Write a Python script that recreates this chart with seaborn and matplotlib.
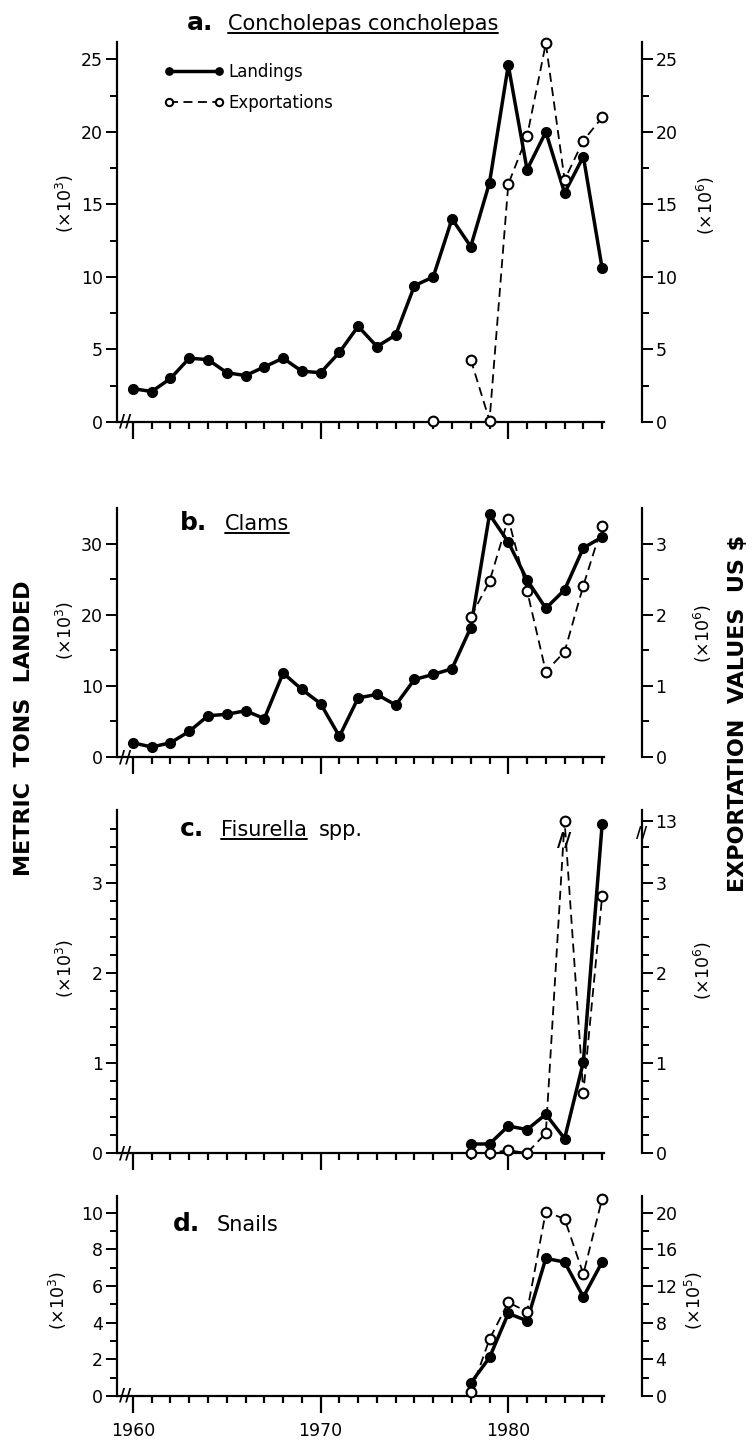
import numpy as np
import pandas as pd
import matplotlib
matplotlib.use("Agg")
import matplotlib.pyplot as plt
import seaborn as sns
from matplotlib.ticker import FixedLocator, MultipleLocator, NullFormatter, FixedFormatter
from matplotlib.lines import Line2D

nan = np.nan
years = list(range(1960, 1986))

# a. Concholepas concholepas  (landings x10^3 t, exports x10^6 US$)
conch_landings = [2.3, 2.1, 3.0, 4.4, 4.3, 3.4, 3.2, 3.8, 4.4, 3.5, 3.4, 4.8, 6.6,
                  5.2, 6.0, 9.4, 10.0, 14.0, 12.1, 16.5, 24.6, 17.4, 20.0, 15.8, 18.3, 10.6]
conch_exports = [nan] * 16 + [0.1, nan, 4.3, 0.1, 16.4, 19.7, 26.1, 16.7, 19.4, 21.0]

# b. Clams  (landings x10^3 t, exports x10^6 US$)
clam_landings = [2.0, 1.4, 2.0, 3.6, 5.8, 6.0, 6.5, 5.4, 11.8, 9.5, 7.5, 2.9, 8.3,
                 8.8, 7.3, 10.9, 11.6, 12.4, 18.2, 34.1, 30.2, 24.9, 20.9, 23.5, 29.4, 30.9]
clam_exports = [nan] * 18 + [1.97, 2.47, 3.35, 2.34, 1.2, 1.48, 2.41, 3.25]

# c. Fisurella spp.  (landings x10^3 t, exports x10^6 US$)
fisu_landings = [nan] * 18 + [0.10, 0.10, 0.30, 0.26, 0.43, 0.16, 1.01, 3.65]
fisu_exports = [nan] * 18 + [0.0, 0.0, 0.03, 0.0, 0.22, 13.0, 0.67, 2.85]

# d. Snails  (landings x10^3 t, exports x10^5 US$)
snail_landings = [nan] * 18 + [0.7, 2.1, 4.5, 4.1, 7.5, 7.3, 5.4, 7.3]
snail_exports = [nan] * 18 + [0.4, 6.2, 10.2, 9.2, 20.1, 19.3, 13.3, 21.5]

year_ticks = [1960, 1970, 1980]
year_labels = ["1960", "1970", "1980"]
legend_labels = ["Landings", "Exportations"]
fisu_right_ticks = [0, 1, 2, 3, 13]
fisu_right_labels = ["0", "1", "2", "3", "13"]

# broken right axis in panel c
BREAK_AT = 3.5
BREAK_SQUEEZE = 0.02


def broken_axis(v):
    v = np.asarray(v, dtype=float)
    return np.where(v <= BREAK_AT, v, BREAK_AT + (v - BREAK_AT) * BREAK_SQUEEZE)


sns.set_style("ticks", {"axes.edgecolor": "black", "xtick.color": "black",
                        "ytick.color": "black", "text.color": "black"})
plt.rcParams["font.family"] = ["DejaVu Sans"]

W, H = 753, 1444
fig = plt.figure(figsize=(W / 100, H / 100), dpi=100)


def px_rect(left, top, right, bottom):
    return [left / W, 1 - bottom / H, (right - left) / W, (bottom - top) / H]


XLIM = (1959.15, 1985.1)

LAND = dict(color="black", linewidth=2.5, marker="o", markersize=7,
            markerfacecolor="black", markeredgecolor="black", markeredgewidth=1,
            clip_on=False, zorder=4)
EXPO = dict(color="black", linewidth=1.3, linestyle=(0, (5, 3)), marker="o",
            markersize=7, markerfacecolor="white", markeredgecolor="black",
            markeredgewidth=1.5, clip_on=False, zorder=5)


def draw_series(ax, values, style):
    df = pd.DataFrame({"year": years, "value": values})
    df["run"] = df["value"].isna().cumsum()
    df = df.dropna(subset=["value"])
    for _, seg in df.groupby("run"):
        sns.lineplot(data=seg, x="year", y="value", ax=ax, estimator=None,
                     sort=False, legend=False, errorbar=None, **style)
    ax.set_xlabel("")
    ax.set_ylabel("")
    return ax.get_lines()[-1]


def make_panel(rect, ylim, ylim_r, lmaj, lmin, rmaj, rmin, xlabels=False):
    ax = fig.add_axes(rect)
    ax2 = ax.twinx()
    ax.spines["top"].set_visible(False)
    ax.spines["right"].set_visible(False)
    for s in ["top", "left", "bottom"]:
        ax2.spines[s].set_visible(False)
    ax2.spines["right"].set_position(("outward", 27))
    for sp in list(ax.spines.values()) + list(ax2.spines.values()):
        sp.set_linewidth(1.6)
    ax.xaxis.set_major_locator(FixedLocator(year_ticks))
    ax.xaxis.set_minor_locator(MultipleLocator(1))
    if xlabels:
        ax.xaxis.set_major_formatter(FixedFormatter(year_labels))
    else:
        ax.xaxis.set_major_formatter(NullFormatter())
    ax.tick_params(axis="x", which="major", length=12, width=1.6, labelsize=12.5, pad=7)
    ax.tick_params(axis="x", which="minor", length=5, width=1.6)
    ax.yaxis.set_major_locator(FixedLocator(lmaj))
    ax.yaxis.set_minor_locator(FixedLocator(lmin))
    ax.tick_params(axis="y", which="major", length=8, width=1.4, labelsize=12.5, pad=2)
    ax.tick_params(axis="y", which="minor", length=5, width=1.4)
    ax2.yaxis.set_major_locator(FixedLocator(rmaj))
    ax2.yaxis.set_minor_locator(FixedLocator(rmin))
    ax2.tick_params(axis="y", which="major", length=8, width=1.4, labelsize=12.5, pad=2)
    ax2.tick_params(axis="y", which="minor", length=5, width=1.4)
    ax.set_ylim(*ylim)
    ax2.set_ylim(*ylim_r)
    ax.set_xlim(XLIM)
    # axis break at the origin
    ax.annotate("//", xy=(0, 0), xycoords="axes fraction", xytext=(6, 0),
                textcoords="offset points", ha="center", va="center",
                fontsize=12, fontweight="bold")
    return ax, ax2


# ---- panel a ----
ax_a, ax_a2 = make_panel(px_rect(117, 42, 604, 422), (0, 26.2), (0, 26.2),
                         np.arange(0, 26, 5), np.arange(2.5, 26, 5),
                         np.arange(0, 26, 5), np.arange(2.5, 26, 5))
h_land = draw_series(ax_a, conch_landings, LAND)
h_exp = draw_series(ax_a2, conch_exports, EXPO)
ax_a.set_xlim(XLIM); ax_a.set_ylim(0, 26.2); ax_a2.set_ylim(0, 26.2)
ax_a.legend(handles=[h_land, h_exp], labels=legend_labels, loc="upper left",
            bbox_to_anchor=(0.065, 0.985), frameon=False, numpoints=2,
            handlelength=3.6, fontsize=12, markerscale=0.75,
            handletextpad=0.3, labelspacing=0.8)

# ---- panel b ----
ax_b, ax_b2 = make_panel(px_rect(117, 508, 604, 757), (0, 35), (0, 3.5),
                         [0, 10, 20, 30], [5, 15, 25],
                         [0, 1, 2, 3], [0.5, 1.5, 2.5])
draw_series(ax_b, clam_landings, LAND)
draw_series(ax_b2, clam_exports, EXPO)
ax_b.set_xlim(XLIM); ax_b.set_ylim(0, 35); ax_b2.set_ylim(0, 3.5)

# ---- panel c ----
c_minor = [v for v in np.round(np.arange(0.2, 3.7, 0.2), 1) if v % 1 != 0]
ax_c, ax_c2 = make_panel(px_rect(117, 810, 604, 1153), (0, 3.81), (0, 3.81),
                         [0, 1, 2, 3], c_minor,
                         broken_axis(fisu_right_ticks), [v for v in c_minor if v < 3.5])
ax_c2.yaxis.set_major_formatter(FixedFormatter(fisu_right_labels))
draw_series(ax_c, fisu_landings, LAND)
draw_series(ax_c2, broken_axis(fisu_exports), EXPO)
ax_c.set_xlim(XLIM); ax_c.set_ylim(0, 3.81); ax_c2.set_ylim(0, 3.81)
peak = int(np.nanargmax(fisu_exports))
ax_c2.annotate("//", xy=(years[peak], BREAK_AT - 0.03), ha="center", va="center",
               fontsize=14, fontweight="bold", zorder=6)
ax_c2.annotate("//", xy=(1, BREAK_AT + 0.05), xycoords=("axes fraction", "data"),
               xytext=(27, 0), textcoords="offset points", ha="center",
               va="center", fontsize=11, fontweight="bold")

# ---- panel d ----
ax_d, ax_d2 = make_panel(px_rect(117, 1196, 604, 1396), (0, 10.9), (0, 21.8),
                         np.arange(0, 11, 2), np.arange(1, 11, 2),
                         np.arange(0, 21, 4), np.arange(2, 21, 4), xlabels=True)
draw_series(ax_d, snail_landings, LAND)
draw_series(ax_d2, snail_exports, EXPO)
ax_d.set_xlim(XLIM); ax_d.set_ylim(0, 10.9); ax_d2.set_ylim(0, 21.8)

# ---- panel titles ----
underlined = []
title_specs = [
    (ax_a, 0.144, 1.032, "a.", "Concholepas concholepas", 0.228, True),
    (ax_b, 0.130, 0.912, "b.", "Clams", 0.222, True),
    (ax_c, 0.130, 0.924, "c.", "Fisurella", 0.214, True),
    (ax_d, 0.115, 0.825, "d.", "Snails", 0.204, False),
]
name_texts = {}
for ax, xl, yb, letter, name, xn, ul in title_specs:
    ax.text(xl, yb, letter, transform=ax.transAxes, fontsize=18,
            fontweight="bold", va="baseline", ha="left")
    t = ax.text(xn, yb, name, transform=ax.transAxes, fontsize=15,
                va="baseline", ha="left")
    name_texts[name] = (ax, t, yb)
    if ul:
        underlined.append((ax, t, yb))

# ---- multiplier labels ----
mult = [
    (65, 203, "(×10$^{3}$)"), (706, 205, "(×10$^{6}$)"),
    (65, 630, "(×10$^{3}$)"), (703, 633, "(×10$^{6}$)"),
    (65, 968, "(×10$^{3}$)"), (703, 970, "(×10$^{6}$)"),
    (58, 1300, "(×10$^{3}$)"), (694, 1300, "(×10$^{5}$)"),
]
for x, y, s in mult:
    fig.text(x / W, 1 - y / H, s, rotation=90, ha="center", va="center", fontsize=12.5)

fig.text(24 / W, 1 - 728 / H, "METRIC  TONS  LANDED", rotation=90,
         ha="center", va="center", fontsize=16, fontweight="bold")
fig.text(738 / W, 1 - 713 / H, "EXPORTATION  VALUES  US $", rotation=90,
         ha="center", va="center", fontsize=16, fontweight="bold")

# underline species names, put "spp." after Fisurella
fig.canvas.draw()
renderer = fig.canvas.get_renderer()
to_fig = fig.transFigure.inverted()
for ax, t, yb in underlined:
    bb = t.get_window_extent(renderer)
    base = ax.transAxes.transform((0, yb))[1] - 3
    p0 = to_fig.transform((bb.x0, base))
    p1 = to_fig.transform((bb.x1, base))
    fig.add_artist(Line2D([p0[0], p1[0]], [p0[1], p1[1]], color="black", linewidth=1.4))

ax, t, yb = name_texts["Fisurella"]
bb = t.get_window_extent(renderer)
xs = ax.transAxes.inverted().transform((bb.x1 + 12, 0))[0]
ax.text(xs, yb, "spp.", transform=ax.transAxes, fontsize=15, va="baseline", ha="left")

fig.savefig("out.png", dpi=100)
